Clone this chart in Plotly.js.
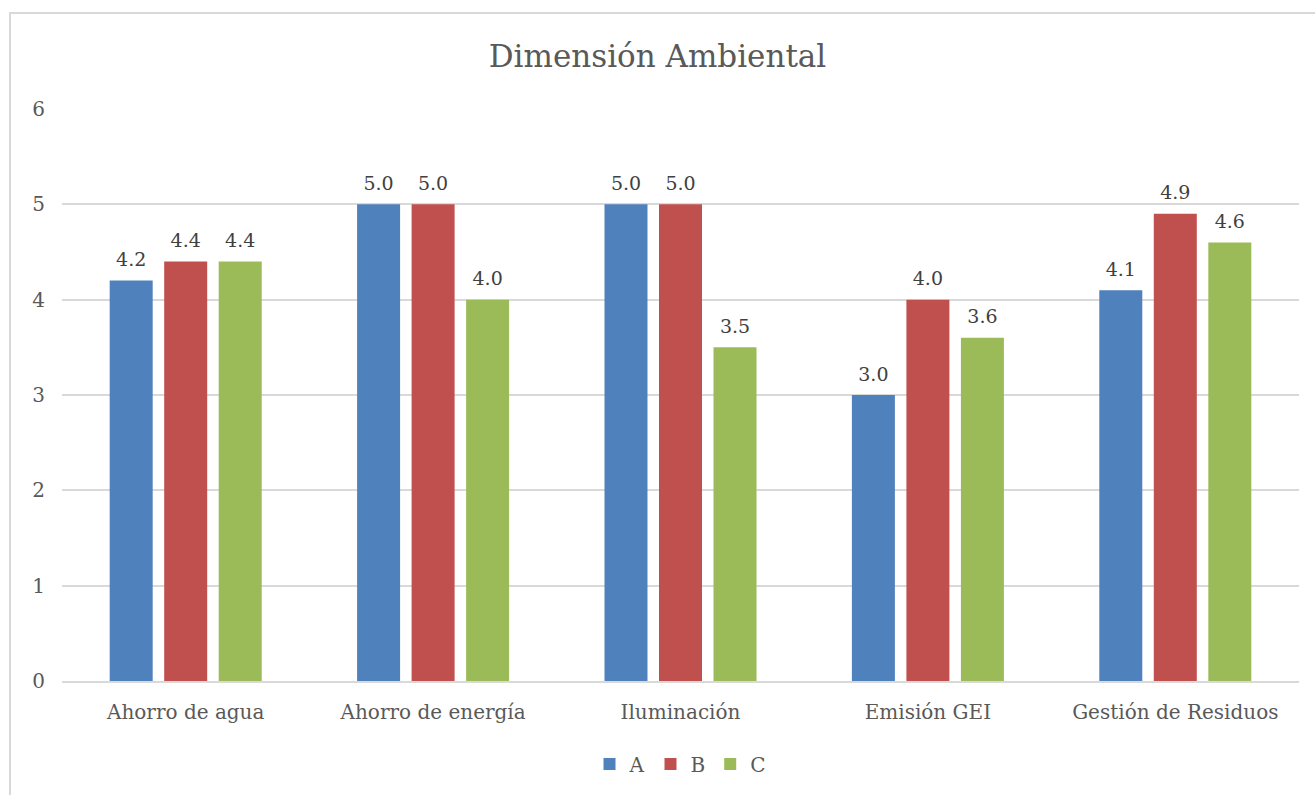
<!DOCTYPE html>
<html><head><meta charset="utf-8">
<script src="https://cdn.plot.ly/plotly-3.0.1.min.js"></script>
<style>
html,body{margin:0;padding:0;background:#fff;overflow:hidden;}
#chart{position:absolute;left:0;top:0;width:1315px;height:795px;}
#frame{position:absolute;left:9px;top:12px;width:2000px;height:2000px;border:2px solid #d9d9d9;pointer-events:none;}
</style></head>
<body>
<div id="chart"></div>
<div id="frame"></div>
<script>
const categories = ["Ahorro de agua", "Ahorro de energía", "Iluminación", "Emisión GEI", "Gestión de Residuos"];
const seriesA = [4.2, 5.0, 5.0, 3.0, 4.1];
const seriesB = [4.4, 5.0, 5.0, 4.0, 4.9];
const seriesC = [4.4, 4.0, 3.5, 3.6, 4.6];
const seriesNames = ["A", "B", "C"];
const colors = ["#4f81bd", "#c0504d", "#9bbb59"];
const FONT = "DejaVu Serif";

const allSeries = [seriesA, seriesB, seriesC];
const data = [];
allSeries.forEach((y, i) => {
  data.push({
    type: "bar", name: seriesNames[i], x: categories, y: y,
    marker: {color: colors[i]}, offsetgroup: seriesNames[i],
    hoverinfo: "x+y"
  });
});
allSeries.forEach((y, i) => {
  data.push({
    type: "scatter", mode: "markers+text", name: seriesNames[i] + " labels",
    x: categories, y: y, offsetgroup: seriesNames[i],
    marker: {size: 14, opacity: 0, color: colors[i]},
    text: y.map(v => v.toFixed(1)), textposition: "top center",
    textfont: {family: FONT, size: 19, color: "#404040"},
    showlegend: false, cliponaxis: false, hoverinfo: "skip"
  });
});

const layout = {
  width: 1315, height: 795,
  margin: {l: 62, r: 16, t: 109, b: 112},
  paper_bgcolor: "#fff", plot_bgcolor: "#fff",
  font: {family: FONT, color: "#595959", size: 20},
  title: {text: "Dimensión Ambiental", font: {family: FONT, size: 31, color: "#595959"}, x: 0.5, xanchor: "center", y: 0.93, yanchor: "middle"},
  barmode: "group", bargap: 0.339, bargroupgap: 0.211,
  scattermode: "group", scattergap: 0.339,
  xaxis: {showgrid: false, showline: true, linecolor: "#d9d9d9", linewidth: 2, ticks: "", ticklabelstandoff: 12, tickfont: {family: FONT, size: 20, color: "#595959"}},
  yaxis: {range: [0, 6], dtick: 1, showgrid: true, gridcolor: "#d9d9d9", gridwidth: 2, zeroline: false, showline: false, ticks: "", ticklabelstandoff: 16, tickfont: {family: FONT, size: 20, color: "#595959"}},
  legend: {orientation: "h", x: 0.5, xanchor: "center", y: -0.145, yanchor: "middle", font: {family: FONT, size: 20, color: "#595959"}, itemwidth: 30, traceorder: "normal"},
  showlegend: true
};

Plotly.newPlot("chart", data, layout, {displayModeBar: false, staticPlot: true});
</script>
</body></html>
